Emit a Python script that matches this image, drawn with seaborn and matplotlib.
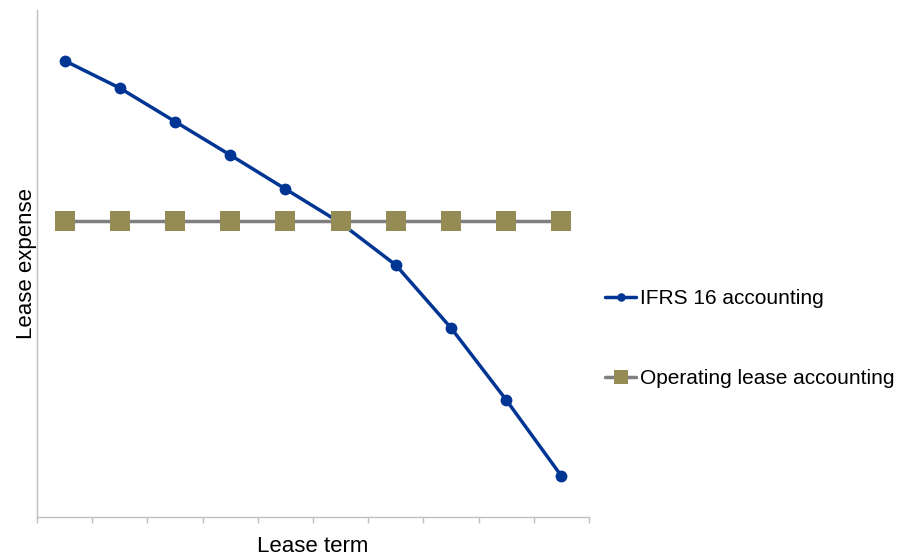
import pandas as pd
import matplotlib.pyplot as plt
import seaborn as sns

# Values (arbitrary units, no y scale shown)
periods = list(range(10))
ifrs16 = [90.0, 84.6, 78.0, 71.4, 64.7, 58.0, 49.7, 37.3, 23.1, 8.1]
operating = [58.4] * 10

df = pd.DataFrame({'Period': periods, 'IFRS': ifrs16, 'Operating': operating})

sns.set_style('white')
plt.rcParams['font.family'] = ['Liberation Sans', 'DejaVu Sans']
plt.rcParams['text.color'] = 'black'
plt.rcParams['axes.labelcolor'] = 'black'

fig = plt.figure(figsize=(9.17, 5.56), dpi=100)
ax = fig.add_axes([0.0403, 0.0701, 0.602, 0.912])

sns.lineplot(data=df, x='Period', y='IFRS', ax=ax, color='#003594', linewidth=2.5,
             marker='o', markersize=8.5, markeredgewidth=0,
             label='IFRS 16 accounting')
sns.lineplot(data=df, x='Period', y='Operating', ax=ax, color='#7F7F7F', linewidth=2.5,
             marker='s', markersize=14, markerfacecolor='#948B55', markeredgewidth=0,
             label='Operating lease accounting')

ax.set_xlim(-0.5, 9.5)
ax.set_ylim(0, 100)
ax.set_xticks([i - 0.5 for i in range(11)])
ax.set_xticklabels([])
ax.set_yticks([])
ax.tick_params(axis='x', direction='out', length=4, width=1, color='#BFBFBF', bottom=True)

for side in ['top', 'right']:
    ax.spines[side].set_visible(False)
for side in ['left', 'bottom']:
    ax.spines[side].set_color('#BFBFBF')
    ax.spines[side].set_linewidth(1)

ax.set_xlabel('Lease term', fontsize=16, labelpad=6)
ax.set_ylabel('Lease expense', fontsize=16, labelpad=0)

leg = ax.legend(loc='center left', bbox_to_anchor=(0.660, 0.391), bbox_transform=fig.transFigure,
                frameon=False, fontsize=15, labelspacing=2.95, handlelength=1.5,
                handletextpad=0.15, markerscale=0.72, borderaxespad=0, borderpad=0)

plt.savefig('out.png', dpi=100)
